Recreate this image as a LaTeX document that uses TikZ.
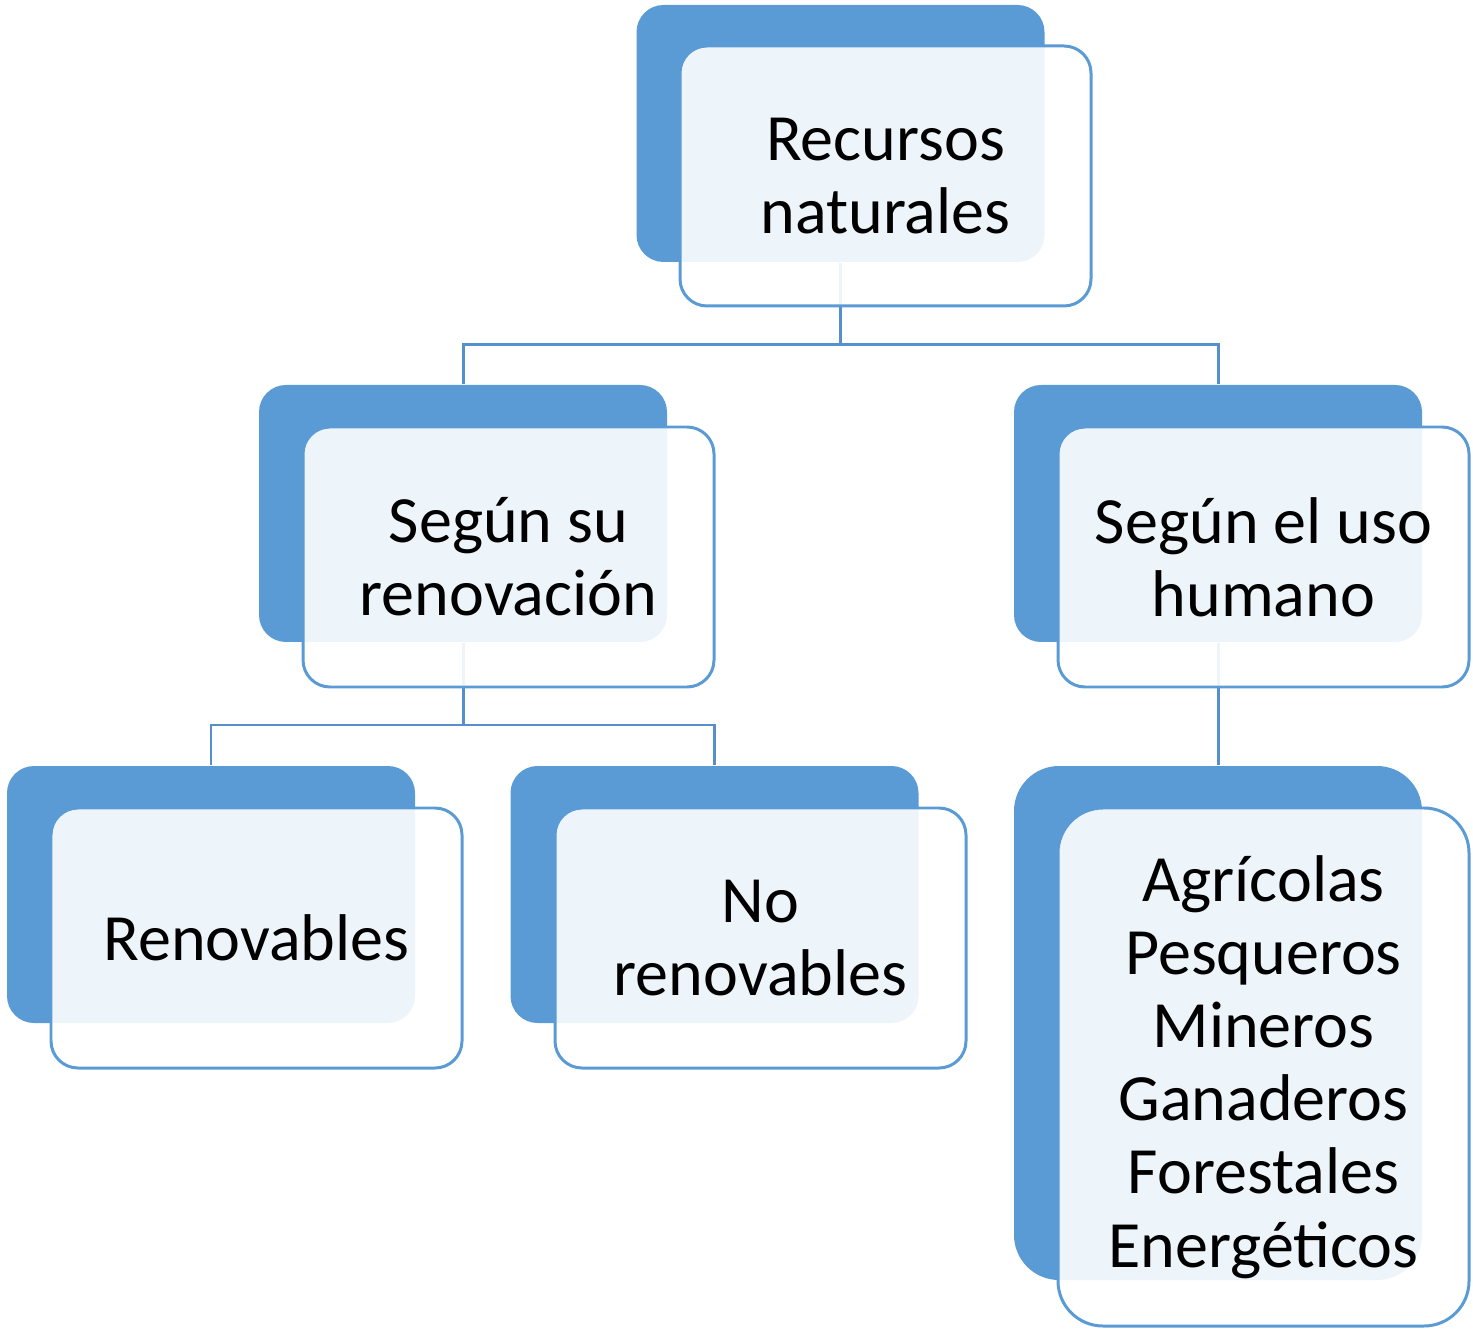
\documentclass[tikz,border=0pt]{standalone}
\usepackage{fontspec}
\setmainfont{Carlito}
\usepackage{tikz}
\usetikzlibrary{positioning}

\definecolor{azulfondo}{HTML}{5B9BD5}
\definecolor{azullinea}{HTML}{5590CC}

\begin{document}
\begin{tikzpicture}[
    fondo/.style={rectangle, rounded corners=0.27cm, fill=azulfondo, inner sep=0pt,
                  minimum width=4.08cm, minimum height=2.57cm},
    caja/.style={rectangle, rounded corners=0.27cm, draw=azulfondo, line width=0.85pt,
                 fill=white, fill opacity=0.9, text opacity=1, inner sep=0pt,
                 minimum width=4.11cm, minimum height=2.6cm, align=center,
                 font=\fontsize{18.8}{20.8}\selectfont},
    enlace/.style={draw=azullinea, line width=0.85pt}
  ]
    \useasboundingbox (0,0) rectangle (14.73,-13.29);

    % Puntos de union
    \coordinate (j1) at (8.405,-3.45);
    \coordinate (j2) at (4.63,-7.25);

    % Fondos azules
    \node[fondo] (rootd)    at (8.405,-1.335)  {};
    \node[fondo] (rend)     at (4.63,-5.135)   {};
    \node[fondo] (usod)     at (12.18,-5.135)  {};
    \node[fondo] (renovd)   at (2.11,-8.945)   {};
    \node[fondo] (norenovd) at (7.145,-8.945)  {};
    \node[fondo, minimum height=5.14cm, rounded corners=0.45cm] (tiposd) at (12.18,-10.23) {};

    % Lineas
    \draw[enlace] (rootd.south) -- (j1) -| (rend.north);
    \draw[enlace] (j1) -| (usod.north);
    \draw[enlace] (rend.south) -- (j2) -| (renovd.north);
    \draw[enlace] (j2) -| (norenovd.north);
    \draw[enlace] (usod.south) -- (tiposd.north);

    % Cajas de texto
    \node[caja] (root)    at (8.855,-1.76)  {Recursos\\naturales};
    \node[caja] (ren)     at (5.085,-5.57)  {Según su\\renovación};
    \node[caja] (uso)     at (12.635,-5.57) {Según el uso\\humano};
    \node[caja] (renov)   at (2.565,-9.38)  {Renovables};
    \node[caja] (norenov) at (7.605,-9.38)  {No\\renovables};
    \node[caja, minimum height=5.18cm, rounded corners=0.45cm] (tipos) at (12.635,-10.67)
        {Agrícolas\\Pesqueros\\Mineros\\Ganaderos\\Forestales\\Energéticos};

\end{tikzpicture}
\end{document}
